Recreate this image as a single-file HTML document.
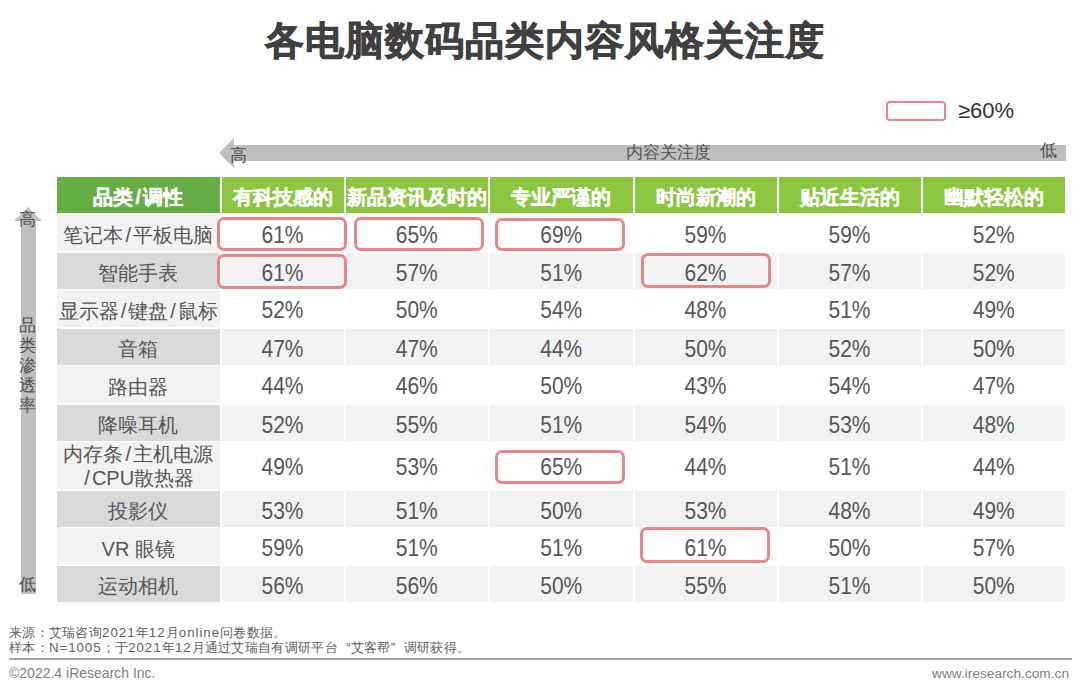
<!DOCTYPE html>
<html><head><meta charset="utf-8"><style>
html,body{margin:0;padding:0;background:#fff;}
body{width:1080px;height:693px;position:relative;overflow:hidden;font-family:"Liberation Sans",sans-serif;}
.a{position:absolute;}
.c{position:absolute;display:flex;align-items:center;justify-content:center;text-align:center;}
.hd{color:#fff;font-weight:bold;font-size:20px;padding-top:5px;box-sizing:border-box;-webkit-text-stroke:0.4px #fff;}
.ct{color:#555;font-size:20px;line-height:22px;padding-top:4px;box-sizing:border-box;}
.dt{color:#575757;font-size:21px;padding-top:3px;box-sizing:border-box;}
.dt span{display:inline-block;transform:scaleY(1.1);}
.ls{letter-spacing:0.95px;}
.red{position:absolute;box-sizing:border-box;border:3px solid #e8858b;border-radius:7px;}
</style></head><body>

<div class="a" style="left:5px;top:14px;width:1080px;text-align:center;font-size:39px;letter-spacing:1px;font-weight:bold;color:#404040;line-height:54px;-webkit-text-stroke:0.85px #404040;">各电脑数码品类内容风格关注度</div>
<div class="a" style="left:886px;top:101px;width:60px;height:20px;box-sizing:border-box;border:2px solid #e8858b;border-radius:4px;"></div>
<div class="a" style="left:958px;top:97px;font-size:22px;color:#333;line-height:28px;">≥60%</div>
<svg class="a" style="left:0;top:0" width="1080" height="693"><polygon points="219,153 234,138 234,145 1066,145 1066,161 234,161 234,168" fill="#bfbfbf"/><polygon points="28,207 42,221 36,221 36,594 21,594 21,221 14,221" fill="#bfbfbf"/></svg>
<div class="a" style="left:230px;top:146px;font-size:17px;color:#4d4d4d;line-height:20px;">高</div>
<div class="a" style="left:626px;top:143px;font-size:17px;color:#555;line-height:20px;">内容关注度</div>
<div class="a" style="left:1040px;top:141px;font-size:17px;color:#4d4d4d;line-height:20px;">低</div>
<div class="a" style="left:19px;top:210px;font-size:17px;color:#4d4d4d;line-height:20px;">高</div>
<div class="a" style="left:19px;top:316px;width:18px;font-size:17px;color:#505050;line-height:19.9px;">品<br>类<br>渗<br>透<br>率</div>
<div class="a" style="left:19px;top:575px;font-size:17px;color:#4d4d4d;line-height:20px;">低</div>
<div class="c hd" style="left:57px;top:177px;width:162.5px;height:36px;background:#64ae44;">品类<span style="margin:0 2px">/</span>调性</div>
<div class="c hd" style="left:221.5px;top:177px;width:122px;height:36px;background:#8cc63e;">有科技感的</div>
<div class="c hd" style="left:345.5px;top:177px;width:142.5px;height:36px;background:#8cc63e;">新品资讯及时的</div>
<div class="c hd" style="left:490px;top:177px;width:142.5px;height:36px;background:#8cc63e;">专业严谨的</div>
<div class="c hd" style="left:634.5px;top:177px;width:142px;height:36px;background:#8cc63e;">时尚新潮的</div>
<div class="c hd" style="left:778.5px;top:177px;width:142px;height:36px;background:#8cc63e;">贴近生活的</div>
<div class="c hd" style="left:922.5px;top:177px;width:142.5px;height:36px;background:#8cc63e;">幽默轻松的</div>
<div class="c ct" style="left:57px;top:215px;width:162.5px;height:36px;background:#f2f2f2;">笔记本<span style="margin:0 2px">/</span>平板电脑</div>
<div class="c dt" style="left:221.5px;top:215px;width:122px;height:36px;background:#ffffff;"><span>61%</span></div>
<div class="c dt" style="left:345.5px;top:215px;width:142.5px;height:36px;background:#ffffff;"><span>65%</span></div>
<div class="c dt" style="left:490px;top:215px;width:142.5px;height:36px;background:#ffffff;"><span>69%</span></div>
<div class="c dt" style="left:634.5px;top:215px;width:142px;height:36px;background:#ffffff;"><span>59%</span></div>
<div class="c dt" style="left:778.5px;top:215px;width:142px;height:36px;background:#ffffff;"><span>59%</span></div>
<div class="c dt" style="left:922.5px;top:215px;width:142.5px;height:36px;background:#ffffff;"><span>52%</span></div>
<div class="c ct" style="left:57px;top:253px;width:162.5px;height:36px;background:#d9d9d9;">智能手表</div>
<div class="c dt" style="left:221.5px;top:253px;width:122px;height:36px;background:#f2f2f2;"><span>61%</span></div>
<div class="c dt" style="left:345.5px;top:253px;width:142.5px;height:36px;background:#f2f2f2;"><span>57%</span></div>
<div class="c dt" style="left:490px;top:253px;width:142.5px;height:36px;background:#f2f2f2;"><span>51%</span></div>
<div class="c dt" style="left:634.5px;top:253px;width:142px;height:36px;background:#f2f2f2;"><span>62%</span></div>
<div class="c dt" style="left:778.5px;top:253px;width:142px;height:36px;background:#f2f2f2;"><span>57%</span></div>
<div class="c dt" style="left:922.5px;top:253px;width:142.5px;height:36px;background:#f2f2f2;"><span>52%</span></div>
<div class="c ct" style="left:57px;top:290px;width:162.5px;height:37px;background:#f2f2f2;">显示器<span style="margin:0 2px">/</span>键盘<span style="margin:0 2px">/</span>鼠标</div>
<div class="c dt" style="left:221.5px;top:290px;width:122px;height:37px;background:#ffffff;"><span>52%</span></div>
<div class="c dt" style="left:345.5px;top:290px;width:142.5px;height:37px;background:#ffffff;"><span>50%</span></div>
<div class="c dt" style="left:490px;top:290px;width:142.5px;height:37px;background:#ffffff;"><span>54%</span></div>
<div class="c dt" style="left:634.5px;top:290px;width:142px;height:37px;background:#ffffff;"><span>48%</span></div>
<div class="c dt" style="left:778.5px;top:290px;width:142px;height:37px;background:#ffffff;"><span>51%</span></div>
<div class="c dt" style="left:922.5px;top:290px;width:142.5px;height:37px;background:#ffffff;"><span>49%</span></div>
<div class="c ct" style="left:57px;top:329px;width:162.5px;height:36px;background:#d9d9d9;">音箱</div>
<div class="c dt" style="left:221.5px;top:329px;width:122px;height:36px;background:#f2f2f2;"><span>47%</span></div>
<div class="c dt" style="left:345.5px;top:329px;width:142.5px;height:36px;background:#f2f2f2;"><span>47%</span></div>
<div class="c dt" style="left:490px;top:329px;width:142.5px;height:36px;background:#f2f2f2;"><span>44%</span></div>
<div class="c dt" style="left:634.5px;top:329px;width:142px;height:36px;background:#f2f2f2;"><span>50%</span></div>
<div class="c dt" style="left:778.5px;top:329px;width:142px;height:36px;background:#f2f2f2;"><span>52%</span></div>
<div class="c dt" style="left:922.5px;top:329px;width:142.5px;height:36px;background:#f2f2f2;"><span>50%</span></div>
<div class="c ct" style="left:57px;top:366px;width:162.5px;height:37px;background:#f2f2f2;">路由器</div>
<div class="c dt" style="left:221.5px;top:366px;width:122px;height:37px;background:#ffffff;"><span>44%</span></div>
<div class="c dt" style="left:345.5px;top:366px;width:142.5px;height:37px;background:#ffffff;"><span>46%</span></div>
<div class="c dt" style="left:490px;top:366px;width:142.5px;height:37px;background:#ffffff;"><span>50%</span></div>
<div class="c dt" style="left:634.5px;top:366px;width:142px;height:37px;background:#ffffff;"><span>43%</span></div>
<div class="c dt" style="left:778.5px;top:366px;width:142px;height:37px;background:#ffffff;"><span>54%</span></div>
<div class="c dt" style="left:922.5px;top:366px;width:142.5px;height:37px;background:#ffffff;"><span>47%</span></div>
<div class="c ct" style="left:57px;top:405px;width:162.5px;height:36px;background:#d9d9d9;">降噪耳机</div>
<div class="c dt" style="left:221.5px;top:405px;width:122px;height:36px;background:#f2f2f2;"><span>52%</span></div>
<div class="c dt" style="left:345.5px;top:405px;width:142.5px;height:36px;background:#f2f2f2;"><span>55%</span></div>
<div class="c dt" style="left:490px;top:405px;width:142.5px;height:36px;background:#f2f2f2;"><span>51%</span></div>
<div class="c dt" style="left:634.5px;top:405px;width:142px;height:36px;background:#f2f2f2;"><span>54%</span></div>
<div class="c dt" style="left:778.5px;top:405px;width:142px;height:36px;background:#f2f2f2;"><span>53%</span></div>
<div class="c dt" style="left:922.5px;top:405px;width:142.5px;height:36px;background:#f2f2f2;"><span>48%</span></div>
<div class="c ct" style="left:57px;top:442px;width:162.5px;height:47px;background:#f2f2f2;"><div style="line-height:23.5px;margin-top:-2px">内存条<span style="margin:0 2px">/</span>主机电源<br><span style="margin:0 2px">/</span>CPU散热器</div></div>
<div class="c dt" style="left:221.5px;top:442px;width:122px;height:47px;background:#ffffff;"><span>49%</span></div>
<div class="c dt" style="left:345.5px;top:442px;width:142.5px;height:47px;background:#ffffff;"><span>53%</span></div>
<div class="c dt" style="left:490px;top:442px;width:142.5px;height:47px;background:#ffffff;"><span>65%</span></div>
<div class="c dt" style="left:634.5px;top:442px;width:142px;height:47px;background:#ffffff;"><span>44%</span></div>
<div class="c dt" style="left:778.5px;top:442px;width:142px;height:47px;background:#ffffff;"><span>51%</span></div>
<div class="c dt" style="left:922.5px;top:442px;width:142.5px;height:47px;background:#ffffff;"><span>44%</span></div>
<div class="c ct" style="left:57px;top:491px;width:162.5px;height:36px;background:#d9d9d9;">投影仪</div>
<div class="c dt" style="left:221.5px;top:491px;width:122px;height:36px;background:#f2f2f2;"><span>53%</span></div>
<div class="c dt" style="left:345.5px;top:491px;width:142.5px;height:36px;background:#f2f2f2;"><span>51%</span></div>
<div class="c dt" style="left:490px;top:491px;width:142.5px;height:36px;background:#f2f2f2;"><span>50%</span></div>
<div class="c dt" style="left:634.5px;top:491px;width:142px;height:36px;background:#f2f2f2;"><span>53%</span></div>
<div class="c dt" style="left:778.5px;top:491px;width:142px;height:36px;background:#f2f2f2;"><span>48%</span></div>
<div class="c dt" style="left:922.5px;top:491px;width:142.5px;height:36px;background:#f2f2f2;"><span>49%</span></div>
<div class="c ct" style="left:57px;top:528px;width:162.5px;height:37px;background:#f2f2f2;">VR 眼镜</div>
<div class="c dt" style="left:221.5px;top:528px;width:122px;height:37px;background:#ffffff;"><span>59%</span></div>
<div class="c dt" style="left:345.5px;top:528px;width:142.5px;height:37px;background:#ffffff;"><span>51%</span></div>
<div class="c dt" style="left:490px;top:528px;width:142.5px;height:37px;background:#ffffff;"><span>51%</span></div>
<div class="c dt" style="left:634.5px;top:528px;width:142px;height:37px;background:#ffffff;"><span>61%</span></div>
<div class="c dt" style="left:778.5px;top:528px;width:142px;height:37px;background:#ffffff;"><span>50%</span></div>
<div class="c dt" style="left:922.5px;top:528px;width:142.5px;height:37px;background:#ffffff;"><span>57%</span></div>
<div class="c ct" style="left:57px;top:566px;width:162.5px;height:36px;background:#d9d9d9;">运动相机</div>
<div class="c dt" style="left:221.5px;top:566px;width:122px;height:36px;background:#f2f2f2;"><span>56%</span></div>
<div class="c dt" style="left:345.5px;top:566px;width:142.5px;height:36px;background:#f2f2f2;"><span>56%</span></div>
<div class="c dt" style="left:490px;top:566px;width:142.5px;height:36px;background:#f2f2f2;"><span>50%</span></div>
<div class="c dt" style="left:634.5px;top:566px;width:142px;height:36px;background:#f2f2f2;"><span>55%</span></div>
<div class="c dt" style="left:778.5px;top:566px;width:142px;height:36px;background:#f2f2f2;"><span>51%</span></div>
<div class="c dt" style="left:922.5px;top:566px;width:142.5px;height:36px;background:#f2f2f2;"><span>50%</span></div>
<div class="red" style="left:217px;top:217px;width:130px;height:34px;"></div>
<div class="red" style="left:354px;top:217px;width:130px;height:34px;"></div>
<div class="red" style="left:495px;top:218px;width:130px;height:33px;"></div>
<div class="red" style="left:217px;top:254px;width:130px;height:35px;"></div>
<div class="red" style="left:641px;top:253px;width:130px;height:35px;"></div>
<div class="red" style="left:495px;top:450px;width:130px;height:34px;"></div>
<div class="red" style="left:640px;top:527px;width:130px;height:36px;"></div>
<div class="a" style="left:9px;top:625px;font-size:13.3px;color:#606060;line-height:15.3px;white-space:nowrap;letter-spacing:0.3px;">来源：艾瑞咨询<span class="ls">2021</span>年<span class="ls">12</span>月<span class="ls">online</span>问卷数据。<br>样本：<span class="ls">N=1005</span>；于<span class="ls">2021</span>年<span class="ls">12</span>月通过艾瑞自有调研平台<span style="display:inline-block;width:13px;text-align:right">“</span>艾客帮<span style="display:inline-block;width:13px;text-align:left">”</span>调研获得。</div>
<svg class="a" style="left:0;top:650px" width="1080" height="20"><line x1="9" y1="9" x2="1072" y2="9" stroke="#a4a4a4" stroke-width="1.8"/></svg>
<div class="a" style="left:9px;top:665px;font-size:14px;color:#7f7f7f;line-height:17px;white-space:nowrap;">©2022.4 iResearch Inc.</div>
<div class="a" style="right:11px;top:665px;font-size:13.7px;color:#7f7f7f;line-height:17px;white-space:nowrap;">www.iresearch.com.cn</div>
</body></html>
